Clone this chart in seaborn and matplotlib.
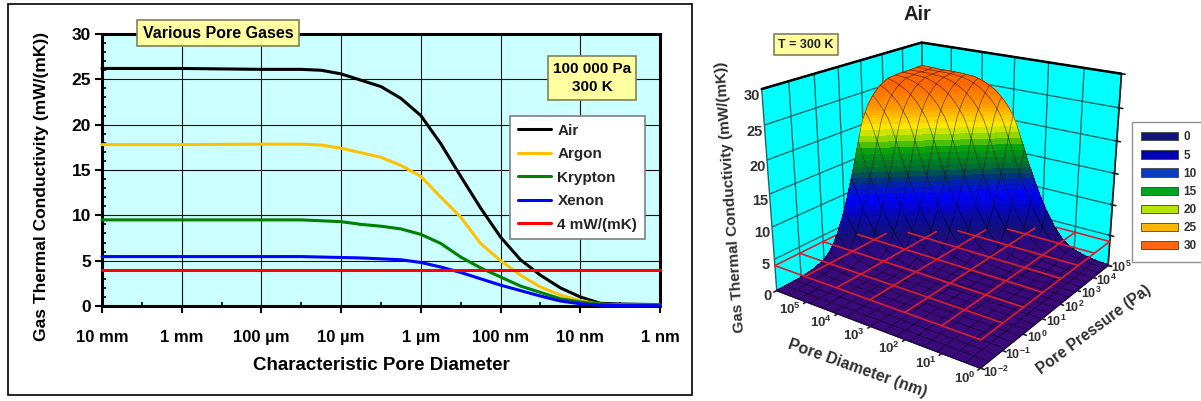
import numpy as np
import pandas as pd
import matplotlib
matplotlib.use("Agg")
import matplotlib.pyplot as plt
from matplotlib.colors import LinearSegmentedColormap
from matplotlib.patches import Patch, Rectangle
from matplotlib.ticker import MultipleLocator
from mpl_toolkits.mplot3d import proj3d
import seaborn as sns

W, H = 1201, 401

# left chart: position along the log axis (0 = 10 mm, 7 = 1 nm)
pore_pos = [0, 1, 2, 2.5, 2.75, 3, 3.25, 3.5, 3.75, 4, 4.25, 4.5, 4.75, 5, 5.25, 5.5, 5.75, 6, 6.25, 6.5, 7]
air = [26.2, 26.2, 26.1, 26.1, 26.0, 25.6, 24.9, 24.2, 22.9, 21.0, 17.9, 14.3, 10.8, 7.6, 5.1, 3.4, 2.0, 1.0, 0.3, 0.22, 0.15]
argon = [17.8, 17.8, 17.85, 17.85, 17.75, 17.4, 16.9, 16.4, 15.5, 14.3, 12.0, 9.8, 6.9, 5.0, 3.4, 2.1, 1.2, 0.6, 0.2, 0.12, 0.1]
krypton = [9.5, 9.5, 9.5, 9.5, 9.4, 9.3, 9.0, 8.8, 8.5, 7.9, 6.9, 5.4, 4.2, 3.2, 2.2, 1.5, 0.8, 0.45, 0.2, 0.1, 0.08]
xenon = [5.45, 5.45, 5.45, 5.45, 5.4, 5.35, 5.3, 5.2, 5.1, 4.8, 4.3, 3.7, 3.0, 2.3, 1.7, 1.1, 0.55, 0.25, 0.08, 0.05, 0.03]
limit = [4.0] * len(pore_pos)
pore_labels = ["10 mm", "1 mm", "100 µm", "10 µm", "1 µm", "100 nm", "10 nm", "1 nm"]
gas_colors = {"Air": "#000000", "Argon": "#ffc000", "Krypton": "#008000", "Xenon": "#0000ff", "4 mW/(mK)": "#ff0000"}

# right chart: log10 of diameter (nm) and pressure (Pa)
log_diam = np.arange(0, 6.0625, 0.0625)
log_pres = np.arange(-2, 5.0625, 0.0625)
# conductivity per sixteenth of a decade of diameter x pressure, from log product -2 to 11
air_by_product = [0.0] * 49 + [0.01] * 47 + [
    0.02, 0.022, 0.025, 0.028, 0.03, 0.035, 0.04, 0.045,
    0.05, 0.057, 0.065, 0.072, 0.08, 0.09, 0.10, 0.115,
    0.13, 0.15, 0.17, 0.195, 0.22, 0.25, 0.29, 0.33,
    0.38, 0.44, 0.50, 0.57, 0.65, 0.74, 0.83, 0.94,
    1.05, 1.2, 1.4, 1.6, 1.8, 2.1, 2.4, 2.8,
    3.2, 3.65, 4.1, 4.65, 5.2, 5.75, 6.3, 6.95,
    7.6, 8.3, 9.0, 9.8, 10.6, 11.4, 12.2, 13.0,
    13.8, 14.75, 15.7, 16.6, 17.5, 18.4, 19.3, 20.1,
    20.8, 21.3, 21.8, 22.25, 22.7, 23.05, 23.4, 23.7,
    24.0, 24.25, 24.5, 24.7, 24.9, 25.05, 25.2, 25.35,
    25.5, 25.6, 25.7, 25.8, 25.9, 25.92, 25.95, 25.98,
    26.0, 26.02, 26.05, 26.08, 26.1, 26.1, 26.1, 26.1,
    26.1, 26.1, 26.1, 26.1, 26.1, 26.1, 26.1, 26.1,
    26.15, 26.15, 26.15, 26.15, 26.2, 26.2, 26.2, 26.2,
    26.2]
surface_legend = ["0", "5", "10", "15", "20", "25", "30"]
surface_legend_colors = ["#14147e", "#0000b4", "#0a3cc0", "#00a51e", "#b4e600", "#ffb400", "#ff6410"]

sns.set_theme(style="white")
plt.rcParams["font.family"] = ["Liberation Sans", "DejaVu Sans"]
plt.rcParams["mathtext.fontset"] = "custom"
plt.rcParams["mathtext.rm"] = "Liberation Sans:bold"
plt.rcParams["mathtext.default"] = "rm"

fig = plt.figure(figsize=(W / 100, H / 100), dpi=100)
fig.add_artist(Rectangle((8 / W, 1 - 395 / H), 684 / W, 391 / H, transform=fig.transFigure,
                         fill=False, edgecolor="black", linewidth=1.2))

# ---- left chart
ax = fig.add_axes([102 / W, 1 - 306 / H, 558 / W, 272 / H])
ax.set_facecolor("#ccffff")
gases = pd.DataFrame({"pos": pore_pos, "Air": air, "Argon": argon, "Krypton": krypton,
                      "Xenon": xenon, "4 mW/(mK)": limit})
long_gases = gases.melt(id_vars="pos", var_name="gas", value_name="k")
sns.lineplot(data=long_gases, x="pos", y="k", hue="gas", palette=gas_colors, linewidth=2.2,
             errorbar=None, ax=ax, sort=False, clip_on=False, zorder=3)
ax.set_xlim(0, 7)
ax.set_ylim(0, 30)
ax.set_xlabel("")
ax.set_ylabel("")
ax.set_xticks(range(8))
ax.set_xticklabels(pore_labels, fontsize=12, fontweight="bold")
ax.xaxis.set_minor_locator(MultipleLocator(0.5))
ax.yaxis.set_major_locator(MultipleLocator(5))
ax.yaxis.set_minor_locator(MultipleLocator(1))
for t in ax.get_yticklabels():
    t.set_fontsize(12.5)
    t.set_fontweight("bold")
ax.tick_params(axis="both", which="major", direction="out", length=5, width=1.5, color="black", bottom=True, left=True, labelcolor="black")
ax.tick_params(axis="x", which="major", pad=12)
ax.tick_params(axis="y", which="major", pad=3)
ax.tick_params(axis="both", which="minor", direction="in", length=3, width=1.2, color="black", bottom=True, left=True)
ax.grid(True, which="major", color="#101010", linewidth=0.8)
ax.set_axisbelow(True)
for s in ax.spines.values():
    s.set_visible(True)
    s.set_color("black")
    s.set_linewidth(2.2)
fig.text(381 / W, 1 - 366 / H, "Characteristic Pore Diameter", ha="center", va="center", fontsize=13.5, fontweight="bold", color="black")
fig.text(42 / W, 1 - 186 / H, "Gas Thermal Conductivity (mW/(mK))", rotation=90, ha="center", va="center",
         fontsize=12.5, fontweight="bold", color="black")
leg = ax.legend(loc="upper left", bbox_to_anchor=((510 - 102) / 558, (306 - 116) / 272), borderaxespad=0,
                frameon=True, fancybox=False, framealpha=1, edgecolor="#808080", facecolor="white",
                prop={"size": 11, "weight": "bold"}, handlelength=2.2, labelspacing=0.62, handletextpad=0.4,
                borderpad=0.5)
leg.get_frame().set_linewidth(1.2)
box = dict(boxstyle="square,pad=0.35", facecolor="#ffffa0", edgecolor="#808060", linewidth=1.2)
fig.text(218 / W, 1 - 33 / H, "Various Pore Gases", ha="center", va="center", fontsize=11.5, fontweight="bold", color="black", bbox=box, zorder=5)
fig.text(592 / W, 1 - 78 / H, "100 000 Pa\n300 K", ha="center", va="center", fontsize=11, fontweight="bold", color="black",
         linespacing=1.4, bbox=box, zorder=5)

# ---- right chart
plt.rcParams["grid.color"] = "#1a6a6a"
plt.rcParams["grid.linewidth"] = 1.0
ax3 = fig.add_axes([702 / W, 24 / H, 480 / W, 1 - 24 / H], projection="3d")
ax3.patch.set_alpha(0)
ax3.computed_zorder = False
ax3.set_proj_type("persp", focal_length=0.45)
ax3.view_init(elev=21, azim=-54.5)
ax3.set_box_aspect((1, 1, 0.85), zoom=1.05)
ax3.set_xlim(6, 0)
ax3.set_ylim(-2, 5)
ax3.set_zlim(0, 30)

X, Y = np.meshgrid(log_diam, log_pres)
Z = np.array([[air_by_product[i + j] for i in range(len(log_diam))] for j in range(len(log_pres))])
surface_cmap = LinearSegmentedColormap.from_list("pore", [
    (0, "#3a0a7a"), (2 / 30, "#2a0a80"), (4 / 30, "#12107c"), (6.5 / 30, "#0808b0"), (9 / 30, "#0000ff"),
    (10.5 / 30, "#0018c8"), (12 / 30, "#003a70"), (13.5 / 30, "#007030"), (16 / 30, "#00a010"),
    (18 / 30, "#90d800"), (19.5 / 30, "#ffee00"), (22 / 30, "#ffa000"), (25 / 30, "#ff6a00"), (1, "#ff5000")])
# squares cut along the diagonal of equal diameter x pressure, so colour bands stay straight
nj, ni = Z.shape
triangles = []
for j in range(nj - 1):
    for i in range(ni - 1):
        a = j * ni + i
        triangles.append([a, a + 1, a + ni])
        triangles.append([a + 1, a + ni + 1, a + ni])
triangles = np.array(triangles)
z_flat = Z.ravel()
band = (z_flat[triangles].min(axis=1) + z_flat[triangles].max(axis=1)) / 2
surf = ax3.plot_trisurf(X.ravel(), Y.ravel(), z_flat, triangles=triangles, linewidth=0, antialiased=False,
                        shade=False, zorder=1)
surf.set_facecolor(surface_cmap(band / 30))
ax3.plot_wireframe(X, Y, Z, rstride=6, cstride=6, color="black", linewidth=0.5, alpha=0.6, zorder=2)

# red 4 mW plane, only where the surface is still under it
for i, d in enumerate(log_diam):
    if d == int(d):
        z4 = np.where(Z[:, i] <= 4, 4.0, np.nan)
        ax3.plot([d] * len(log_pres), log_pres, z4, color="#d8202c", linewidth=1.2, zorder=3)
for j, p in enumerate(log_pres):
    if p == int(p):
        z4 = np.where(Z[j, :] <= 4, 4.0, np.nan)
        ax3.plot(log_diam, [p] * len(log_diam), z4, color="#d8202c", linewidth=1.2, zorder=3)

ax3.set_xticks(range(7))
ax3.set_yticks(range(-2, 6))
ax3.set_zticks(range(0, 31, 5))
ax3.set_xticklabels([])
ax3.set_yticklabels([])
ax3.set_zticklabels([])
ax3.tick_params(length=0)
for axis in (ax3.xaxis, ax3.yaxis, ax3.zaxis):
    axis.set_pane_color((0, 1, 1, 1))
    axis.pane.set_edgecolor("#104040")
    axis.line.set_color("#202020")

ax3.plot([6, 6, 0], [-2, 5, 5], [30, 30, 30], color="black", linewidth=1.8, zorder=4)


def label3d(x, y, z, s, **kw):
    px, py, _ = proj3d.proj_transform(x, y, z, ax3.get_proj())
    ax3.text2D(px, py, s, transform=ax3.transData, ha="center", va="center", color="#303030", zorder=6, **kw)


for v in range(0, 31, 5):
    label3d(6.2, -2.15, v - 1, str(v), fontsize=10.5, fontweight="bold")
for d in range(6):
    label3d(d + 0.05, -2.6, 0, r"$10^{%d}$" % d, fontsize=9.5)
for p in range(-2, 6):
    label3d(-0.35, p + 0.08, 0, r"$10^{%d}$" % p, fontsize=9)

fig.text(917 / W, 1 - 15 / H, "Air", ha="center", va="center", fontsize=14.5, fontweight="bold", color="#202020")
fig.text(806 / W, 1 - 44.5 / H, "T = 300 K", ha="center", va="center", fontsize=9, fontweight="bold", color="#202020",
         bbox=dict(boxstyle="square,pad=0.35", facecolor="#ffffa0", edgecolor="#808060", linewidth=1.2), zorder=7)
fig.text(731 / W, 1 - 197 / H, "Gas Thermal Conductivity (mW/(mK))", rotation=94, ha="center", va="center",
         fontsize=11, fontweight="bold", color="#303030")
fig.text(857 / W, 1 - 368 / H, "Pore Diameter (nm)", rotation=-19.5, ha="center", va="center", fontsize=11.4,
         fontweight="bold", color="#303030")
fig.text(1094 / W, 1 - 330 / H, "Pore Pressure (Pa)", rotation=36.7, ha="center", va="center", fontsize=11.2,
         fontweight="bold", color="#303030")

handles = [Patch(facecolor=c, edgecolor="#404040", linewidth=0.6) for c in surface_legend_colors]
fig.legend(handles, surface_legend, loc="upper left", bbox_to_anchor=(1132 / W, 1 - 122 / H), borderaxespad=0,
           frameon=True, fancybox=False, framealpha=1, edgecolor="#909090", facecolor="white",
           prop={"size": 8.5, "weight": "bold"}, handlelength=3.1, handleheight=0.7, labelspacing=0.52,
           handletextpad=0.45, borderpad=0.8, labelcolor="#303030")

fig.savefig("out.png", dpi=100)
